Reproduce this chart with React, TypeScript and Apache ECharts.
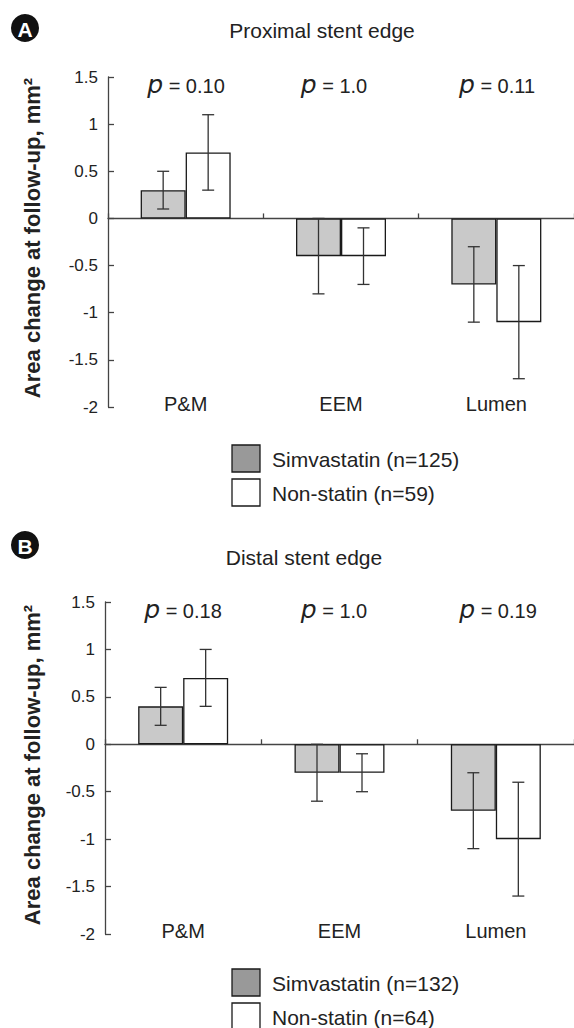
import React, { useEffect, useRef } from "react";
import * as echarts from "echarts";

const categories = ["P&M", "EEM", "Lumen"];

// Panel A – Proximal stent edge
const simA = [0.3, -0.4, -0.7];
const simALow = [0.1, -0.8, -1.1];
const simAHigh = [0.5, 0, -0.3];
const nonA = [0.7, -0.4, -1.1];
const nonALow = [0.3, -0.7, -1.7];
const nonAHigh = [1.1, -0.1, -0.5];
const pA = ["0.10", "1.0", "0.11"];

// Panel B – Distal stent edge
const simB = [0.4, -0.3, -0.7];
const simBLow = [0.2, -0.6, -1.1];
const simBHigh = [0.6, 0, -0.3];
const nonB = [0.7, -0.3, -1.0];
const nonBLow = [0.4, -0.5, -1.6];
const nonBHigh = [1.0, -0.1, -0.4];
const pB = ["0.18", "1.0", "0.19"];

const legendA = ["Simvastatin (n=125)", "Non-statin (n=59)"];
const legendB = ["Simvastatin (n=132)", "Non-statin (n=64)"];

const FONT = "Liberation Sans";
const TXT = "#222";
const AX = "#444";
const BAR_W = 45;
const SIM_FILL = "#c9c9c9";
const SIM_LEGEND = "#999999";

function errRender(offset: number) {
  return (params: any, api: any) => {
    const x = api.value(0);
    const lo = api.coord([x, api.value(1)]);
    const hi = api.coord([x, api.value(2)]);
    const cx = lo[0] + offset;
    const cap = 6;
    const style = { stroke: "#333", lineWidth: 1.3 };
    return {
      type: "group",
      children: [
        { type: "line", shape: { x1: cx, y1: lo[1], x2: cx, y2: hi[1] }, style },
        { type: "line", shape: { x1: cx - cap, y1: lo[1], x2: cx + cap, y2: lo[1] }, style },
        { type: "line", shape: { x1: cx - cap, y1: hi[1], x2: cx + cap, y2: hi[1] }, style },
      ],
    };
  };
}

function panelSeries(
  gi: number,
  names: string[],
  sim: number[],
  simLo: number[],
  simHi: number[],
  non: number[],
  nonLo: number[],
  nonHi: number[]
) {
  const xi = gi * 2;
  return [
    {
      name: names[0],
      type: "bar",
      xAxisIndex: xi,
      yAxisIndex: gi,
      data: sim,
      barWidth: BAR_W,
      barGap: "0%",
      itemStyle: { color: SIM_FILL, borderColor: "#1a1a1a", borderWidth: 1.3 },
      z: 2,
    },
    {
      name: names[1],
      type: "bar",
      xAxisIndex: xi,
      yAxisIndex: gi,
      data: non,
      barWidth: BAR_W,
      barGap: "0%",
      itemStyle: { color: "#ffffff", borderColor: "#1a1a1a", borderWidth: 1.3 },
      z: 2,
    },
    {
      type: "custom",
      xAxisIndex: xi,
      yAxisIndex: gi,
      renderItem: errRender(-BAR_W / 2),
      encode: { x: 0, y: [1, 2] },
      data: categories.map((_, i) => [i, simLo[i], simHi[i]]),
      z: 5,
    },
    {
      type: "custom",
      xAxisIndex: xi,
      yAxisIndex: gi,
      renderItem: errRender(BAR_W / 2),
      encode: { x: 0, y: [1, 2] },
      data: categories.map((_, i) => [i, nonLo[i], nonHi[i]]),
      z: 5,
    },
  ];
}

function xAxes(gi: number) {
  return [
    {
      type: "category",
      gridIndex: gi,
      data: categories,
      axisLine: { onZero: true, lineStyle: { color: AX, width: 1.3 } },
      axisTick: { show: true, inside: true, length: 5, lineStyle: { color: AX, width: 1.3 } },
      axisLabel: { show: false },
      splitLine: { show: false },
    },
    {
      type: "category",
      gridIndex: gi,
      data: categories,
      position: "bottom",
      axisLine: { show: false, onZero: false },
      axisTick: { show: false },
      axisLabel: {
        fontSize: 20,
        color: TXT,
        fontFamily: FONT,
        margin: -3,
        verticalAlign: "middle",
      },
      splitLine: { show: false },
    },
  ];
}

function yAxis(gi: number) {
  return {
    type: "value",
    gridIndex: gi,
    min: -2,
    max: 1.5,
    interval: 0.5,
    axisLine: { show: true, lineStyle: { color: AX, width: 1.3 } },
    axisTick: { show: true, inside: true, length: 6, lineStyle: { color: AX, width: 1.3 } },
    axisLabel: { fontSize: 17, color: TXT, fontFamily: FONT, margin: 10 },
    splitLine: { show: false },
  };
}

function legendGraphic(names: string[], top: number) {
  const out: any[] = [];
  const fills = [SIM_LEGEND, "#ffffff"];
  names.forEach((n, i) => {
    const y = top + i * 34;
    out.push({
      type: "rect",
      shape: { x: 232, y, width: 28, height: 27 },
      style: { fill: fills[i], stroke: "#1a1a1a", lineWidth: 1.3 },
    });
    out.push({
      type: "text",
      x: 272,
      y: y + 14,
      style: {
        text: n,
        fill: TXT,
        fontSize: 21,
        fontFamily: FONT,
        align: "left",
        verticalAlign: "middle",
      },
    });
  });
  return out;
}

function badge(letter: string, cx: number, cy: number) {
  return [
    { type: "circle", shape: { cx, cy, r: 14 }, style: { fill: "#111" } },
    {
      type: "text",
      x: cx,
      y: cy + 1,
      style: {
        text: letter,
        fill: "#fff",
        fontSize: 21,
        fontWeight: "bold",
        fontFamily: FONT,
        align: "center",
        verticalAlign: "middle",
      },
    },
  ];
}

function title(text: string, x: number, y: number) {
  return {
    type: "text",
    x,
    y,
    style: {
      text,
      fill: TXT,
      fontSize: 21,
      fontFamily: FONT,
      align: "center",
      verticalAlign: "middle",
    },
  };
}

function pLabels(vals: string[], xs: number[], y: number) {
  return vals.map((v, i) => ({
    type: "text",
    x: xs[i],
    y,
    style: {
      text: "{p|p} = " + v,
      fill: TXT,
      fontSize: 20,
      fontFamily: FONT,
      align: "center",
      verticalAlign: "middle",
      rich: {
        p: { fontSize: 25, fontStyle: "italic", fontFamily: "DejaVu Sans", fill: TXT, padding: [0, 0, 4, 0] },
      },
    },
  }));
}

function yName(x: number, y: number) {
  return {
    type: "text",
    x,
    y,
    rotation: Math.PI / 2,
    style: {
      text: "Area change at follow-up, mm²",
      fill: TXT,
      fontSize: 22,
      fontWeight: "bold",
      fontFamily: FONT,
      align: "center",
      verticalAlign: "middle",
    },
  };
}

export default function App() {
  const ref = useRef<HTMLDivElement>(null);
  useEffect(() => {
    if (!ref.current) return;
    const chart = echarts.init(ref.current, null, { renderer: "svg" });
    chart.setOption({
      animation: false,
      backgroundColor: "#ffffff",
      textStyle: { fontFamily: FONT },
      grid: [
        { left: 108, top: 77, width: 470, height: 330 },
        { left: 105, top: 602, width: 474, height: 332 },
      ],
      xAxis: [...xAxes(0), ...xAxes(1)],
      yAxis: [yAxis(0), yAxis(1)],
      series: [
        ...panelSeries(0, legendA, simA, simALow, simAHigh, nonA, nonALow, nonAHigh),
        ...panelSeries(1, legendB, simB, simBLow, simBHigh, nonB, nonBLow, nonBHigh),
      ],
      graphic: [
        ...badge("A", 25, 28),
        ...badge("B", 25, 545),
        title("Proximal stent edge", 322, 30),
        title("Distal stent edge", 304, 557),
        ...pLabels(pA, [186, 334, 497], 86),
        ...pLabels(pB, [183, 334, 498], 611),
        yName(32, 238),
        yName(32, 765),
        ...legendGraphic(legendA, 445),
        ...legendGraphic(legendB, 969),
      ],
    });
    return () => chart.dispose();
  }, []);
  return (
    <div
      ref={ref}
      style={{ position: "absolute", left: 0, top: 0, width: 574, height: 1028 }}
    />
  );
}
